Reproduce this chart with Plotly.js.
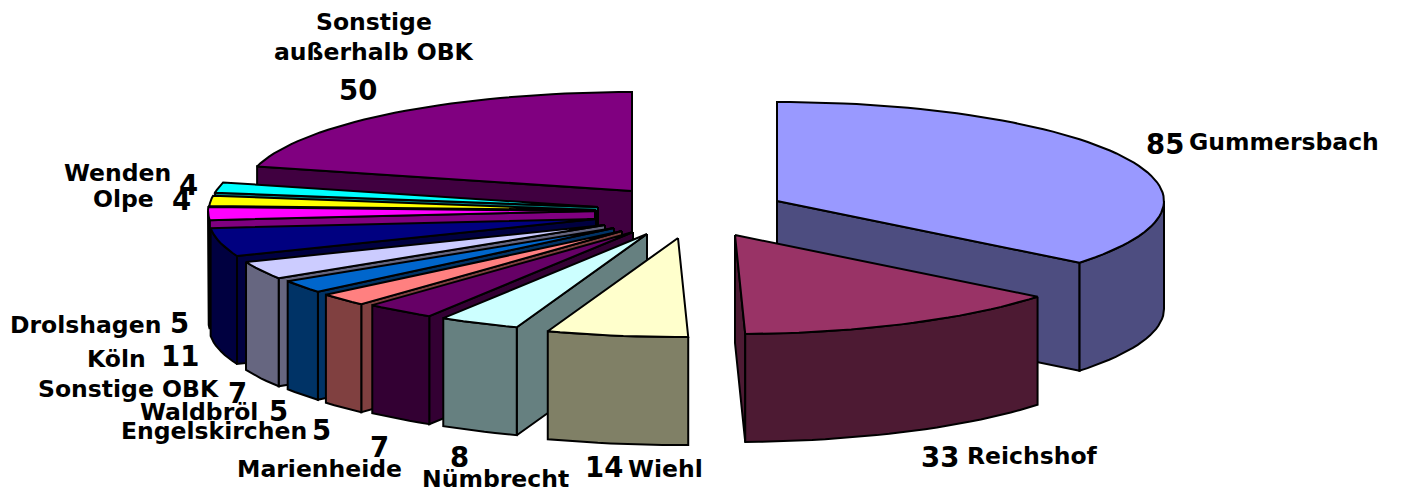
<!DOCTYPE html>
<html><head><meta charset="utf-8">
<script src="https://cdn.plot.ly/plotly-3.0.1.min.js"></script>
<style>html,body{margin:0;padding:0;background:#fff}#c{width:1401px;height:494px}</style>
</head><body><div id="c"></div>
<script>
// Data, clockwise from 12 o'clock
const categories = ["Gummersbach","Reichshof","Wiehl","Nümbrecht","Marienheide","Engelskirchen","Waldbröl","Sonstige OBK","Köln","Drolshagen","Olpe","Wenden","Sonstige außerhalb OBK"];
const values = [85,33,14,8,7,5,5,7,11,5,4,4,50];

// Styles and layout
const topColors  = ["#9999FF","#993366","#FFFFCC","#CCFFFF","#660066","#FF8080","#0066CC","#CCCCFF","#000080","#FF00FF","#FFFF00","#00FFFF","#800080"];
const wallColors = ["#4D4D80","#4D1A33","#808066","#668080","#330033","#804040","#003366","#666680","#000040","#800080","#808000","#008080","#400040"];
const apexX = [777,735,678,647,633,622,614,605,596,595,596,598,632];
const apexY = [201,235,238,234,232,231,228,225,219,211,210,207,191];
const drawOrder = [12,0,11,10,9,8,7,6,5,4,3,2,1];
const RX = 387, RY = 99, DEPTH = 108;

const labelLines = [["Gummersbach"],["Reichshof"],["Wiehl"],["Nümbrecht"],["Marienheide"],["Engelskirchen"],["Waldbröl"],["Sonstige OBK"],["Köln"],["Drolshagen"],["Olpe"],["Wenden"],["Sonstige","außerhalb OBK"]];
const labelX = [1284,1032,665,495,319,214,199,128,116,85,123,117,374];
const labelY = [[142],[456],[469],[479],[469],[431],[412],[389],[359],[325],[199],[173],[22,52]];
const numX = [1165,940,604,459,379,321,278,237,180,179,181,188,358];
const numY = [144,457,467,457,447,430,411,393,356,323,200,185,90];

const total = values.reduce((a,b)=>a+b,0);
const start = []; let acc = 0;
values.forEach(v=>{start.push(acc/total*360); acc+=v;});
const rad = d=>d*Math.PI/180;
const px = (i,d)=>apexX[i]+RX*Math.sin(rad(d));
const py = (i,d)=>apexY[i]-RY*Math.cos(rad(d));

function poly(xs,ys,fill){
  return {type:"scatter",mode:"lines",x:xs.concat(xs[0]),y:ys.concat(ys[0]),fill:"toself",fillcolor:fill,
    line:{color:"#000",width:2,shape:"linear"},hoverinfo:"skip",showlegend:false};
}
function arcAngles(a,b){const o=[];const n=Math.max(2,Math.ceil((b-a)/2));for(let k=0;k<=n;k++)o.push(a+(b-a)*k/n);return o;}

const traces=[];
drawOrder.forEach(i=>{
  const a=start[i], b=a+values[i]/total*360, ax=apexX[i], ay=apexY[i];
  const radial=d=>poly([ax,px(i,d),px(i,d),ax],[ay,py(i,d),py(i,d)+DEPTH,ay+DEPTH],wallColors[i]);
  if(a>=180&&a<360) traces.push(radial(a));
  if(b>0&&b<=180) traces.push(radial(b));
  const wa=Math.max(a,90), wb=Math.min(b,270);
  if(wb>wa){
    const ang=arcAngles(wa,wb);
    const xs=ang.map(d=>px(i,d)), ys=ang.map(d=>py(i,d));
    traces.push(poly(xs.concat(xs.slice().reverse()),ys.concat(ys.slice().reverse().map(y=>y+DEPTH)),wallColors[i]));
  }
  const ang=arcAngles(a,b);
  traces.push(poly([ax].concat(ang.map(d=>px(i,d))),[ay].concat(ang.map(d=>py(i,d))),topColors[i]));
});

const F="'DejaVu Sans',sans-serif";
const annotations=[];
categories.forEach((c,i)=>{
  labelLines[i].forEach((t,k)=>annotations.push({x:labelX[i],y:labelY[i][k],text:t,showarrow:false,xanchor:"center",yanchor:"middle",font:{family:F,size:23.5,color:"#000",weight:700}}));
  annotations.push({x:numX[i],y:numY[i],text:String(values[i]),showarrow:false,xanchor:"center",yanchor:"middle",font:{family:F,size:27.5,color:"#000",weight:700}});
});

Plotly.newPlot("c",traces,{
  width:1401,height:494,margin:{l:0,r:0,t:0,b:0},paper_bgcolor:"#fff",plot_bgcolor:"#fff",showlegend:false,
  xaxis:{range:[0,1401],visible:false,fixedrange:true},
  yaxis:{range:[494,0],visible:false,fixedrange:true},
  annotations
},{displayModeBar:false,staticPlot:true});
</script></body></html>
